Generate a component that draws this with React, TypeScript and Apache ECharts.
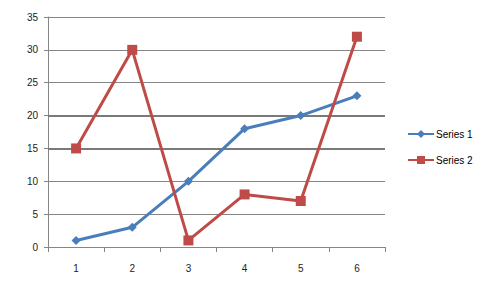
import React, { useEffect, useRef } from "react";
import * as echarts from "echarts";

const categories = ["1", "2", "3", "4", "5", "6"];
const series1 = [1, 3, 10, 18, 20, 23];
const series2 = [15, 30, 1, 8, 7, 32];
const seriesNames = ["Series 1", "Series 2"];
const emphasizedLines = [15, 20];

export default function App() {
  const ref = useRef<HTMLDivElement>(null);
  useEffect(() => {
    const chart = echarts.init(ref.current!, null, { renderer: "svg" });
    const font = "Liberation Sans, Arial, sans-serif";
    chart.setOption({
      animation: false,
      backgroundColor: "#fff",
      grid: { left: 40, top: 9, width: 337, height: 230, containLabel: false },
      legend: {
        orient: "vertical",
        left: 394,
        top: 116,
        itemWidth: 26,
        itemHeight: 10,
        itemGap: 16,
        textStyle: { fontFamily: font, fontSize: 10, color: "#000", padding: [0, 0, 0, -3] },
        data: seriesNames,
      },
      xAxis: {
        type: "category",
        data: categories,
        boundaryGap: true,
        axisLine: { lineStyle: { color: "#868686", width: 1 } },
        axisTick: { show: true, length: 5, alignWithLabel: false, lineStyle: { color: "#868686" } },
        axisLabel: { fontFamily: font, fontSize: 10, color: "#222", margin: 16 },
      },
      yAxis: {
        type: "value",
        min: 0,
        max: 35,
        interval: 5,
        axisLine: { show: true, lineStyle: { color: "#868686" } },
        axisTick: { show: true, length: 4, lineStyle: { color: "#868686" } },
        axisLabel: { fontFamily: font, fontSize: 10, color: "#222", margin: 10 },
        splitLine: { lineStyle: { color: "#868686", width: 1 } },
      },
      series: [
        {
          name: seriesNames[0],
          type: "line",
          data: series1,
          symbol: "diamond",
          symbolSize: 9,
          color: "#4A7EBB",
          lineStyle: { width: 3, color: "#4A7EBB" },
          itemStyle: { color: "#4A7EBB" },
          z: 3,
          markLine: {
            silent: true,
            symbol: "none",
            label: { show: false },
            lineStyle: { color: "#7a7a7a", width: 2, type: "solid" },
            data: emphasizedLines.map((v) => ({ yAxis: v })),
            z: 1,
          },
        },
        {
          name: seriesNames[1],
          type: "line",
          data: series2,
          symbol: "rect",
          symbolSize: 10,
          color: "#BE4B48",
          lineStyle: { width: 3, color: "#BE4B48" },
          itemStyle: { color: "#BE4B48" },
          z: 4,
        },
      ],
    });
    return () => chart.dispose();
  }, []);
  return <div ref={ref} style={{ width: 480, height: 280 }} />;
}
